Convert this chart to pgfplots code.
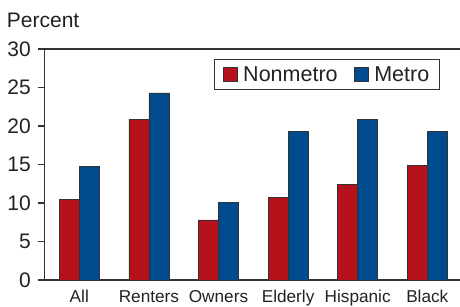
\documentclass[border=0pt]{standalone}
\usepackage{pgfplots}
\pgfplotsset{compat=1.18}
\usepackage{fontspec}
\setmainfont{Liberation Sans}
\definecolor{nred}{HTML}{B5121B}
\definecolor{mblue}{HTML}{004B8D}
\definecolor{txt}{HTML}{222222}
\definecolor{axc}{HTML}{333333}
\begin{document}
\begin{tikzpicture}
\useasboundingbox (-44.5pt,-26pt) rectangle (415.5pt,280pt);
\begin{axis}[
  scale only axis,
  width=415.5pt, height=231pt,
  ymin=0, ymax=30, ytick={0,5,...,30},
  xmin=-0.5, xmax=5.47,
  xtick={0,1,2,3,4,5},
  xticklabels={All,Renters,Owners,Elderly,Hispanic,Black},
  axis x line*=box, axis y line*=left,
  axis line style={axc, line width=1.2pt},
  ytick pos=left, tick align=outside,
  major tick length=6.5pt,
  ytick style={axc, line width=1.2pt},
  xtick style={draw=none},
  /pgf/number format/assume math mode=true,
  yticklabel style={font=\fontsize{21}{24}\selectfont, text=txt, inner sep=0pt, anchor=east, xshift=-7pt},
  xticklabel style={font=\fontsize{17.2}{20}\selectfont, text=txt, inner sep=0pt, anchor=base, yshift=-15.8pt},
  ybar=0pt, bar width=20pt,
  legend columns=2,
  legend image code/.code={\draw[#1] (0pt,-7pt) rectangle (14pt,7pt);},
  legend style={at={(0.408,0.957)}, anchor=north west, draw=axc, line width=1pt,
    font=\fontsize{21.5}{25}\selectfont, text=txt, inner xsep=8pt, inner ysep=5pt,
    /tikz/every odd column/.append style={column sep=4pt},
    /tikz/every even column/.append style={column sep=14pt}},
]
\addplot[fill=nred, draw=axc, line width=0.7pt] coordinates {(0,10.5) (1,20.9) (2,7.8) (3,10.7) (4,12.4) (5,14.9)};
\addplot[fill=mblue, draw=axc, line width=0.7pt] coordinates {(0,14.7) (1,24.3) (2,10.1) (3,19.3) (4,20.9) (5,19.3)};
\legend{Nonmetro,Metro}
\end{axis}
\node[anchor=base west, inner sep=0pt, text=txt, font=\fontsize{21}{24}\selectfont] at (-37.8pt,252pt) {Percent};
\end{tikzpicture}
\end{document}
